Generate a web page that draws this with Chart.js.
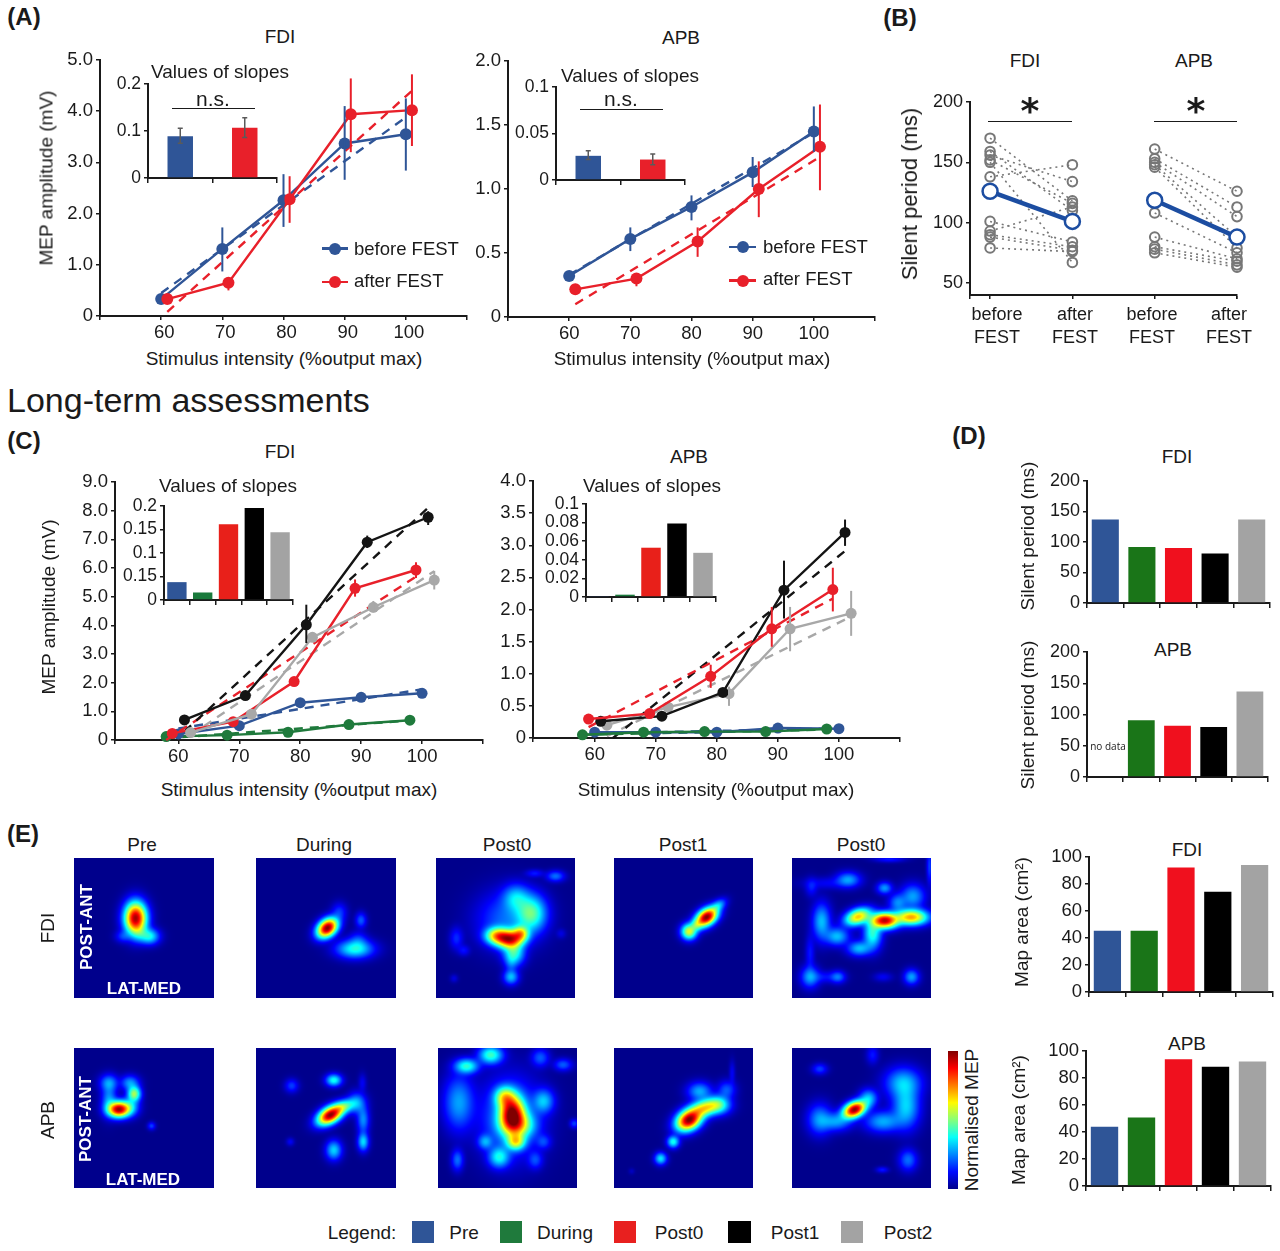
<!DOCTYPE html>
<html>
<head>
<meta charset="utf-8">
<title>FEST motor assessments</title>
<script src="https://cdn.jsdelivr.net/npm/chart.js@4"></script>
<style>
    html, body { margin: 0; background: #fff; }
    #page { position: relative; width: 1280px; height: 1251px; overflow: hidden; font-family: "Liberation Sans", Arial, sans-serif; color: #1a1a1a; }
    #page canvas { position: absolute; }
    .txt { position: absolute; white-space: nowrap; transform: translate(-50%, -50%); line-height: 1; }
</style>
</head>
<body>
<div id="page"></div>
<script>
// ---- data ----
var stimulusTicks = [60, 70, 80, 90, 100];
var timepoints = ['Pre', 'During', 'Post0', 'Post1', 'Post2'];
var legendLabels = ['Pre', 'During', 'Post0', 'Post1', 'Post2'];

// (A) x positions are nudged per group, as in the figure
var xBefore = [60, 70, 80, 90, 100];
var xAfter  = [61, 71, 81, 91, 101];

var aFdiBefore     = [0.33, 1.31, 2.26, 3.37, 3.55];
var aFdiBeforeLow  = [null, 0.87, 1.74, 2.66, 2.84];
var aFdiBeforeHigh = [null, 1.73, 2.77, 4.10, 4.25];
var aFdiAfter      = [0.33, 0.65, 2.28, 3.94, 4.02];
var aFdiAfterLow   = [null, 0.50, 1.82, 3.20, 3.32];
var aFdiAfterHigh  = [null, 0.74, 2.73, 4.64, 4.72];
var aFdiBeforeFit  = [[60, 0.45], [100, 3.88]];
var aFdiAfterFit   = [[61, 0.08], [101, 4.40]];

var aApbBefore     = [0.32, 0.61, 0.86, 1.13, 1.45];
var aApbBeforeLow  = [null, 0.515, 0.755, 1.015, 1.29];
var aApbBeforeHigh = [null, 0.70, 0.95, 1.25, 1.645];
var aApbAfter      = [0.216, 0.30, 0.59, 1.00, 1.33];
var aApbAfterLow   = [null, 0.24, 0.47, 0.78, 0.99];
var aApbAfterHigh  = [null, 0.34, 0.70, 1.216, 1.66];
var aApbBeforeFit  = [[60, 0.33], [100, 1.44]];
var aApbAfterFit   = [[61, 0.10], [101, 1.25]];

var slopeGroups = ['before FEST', 'after FEST'];
var aFdiSlopes     = [0.089, 0.107];
var aFdiSlopesLow  = [0.074, 0.086];
var aFdiSlopesHigh = [0.106, 0.128];
var aApbSlopes     = [0.026, 0.022];
var aApbSlopesLow  = [0.022, 0.0165];
var aApbSlopesHigh = [0.0315, 0.028];

// (B) one before/after pair per subject
var bFdiBefore = [170, 159, 156, 152, 150, 138, 101, 93, 90, 88, 79];
var bFdiAfter  = [118, 110, 134, 116, 67, 148, 84, 113, 80, 77, 76];
var bFdiMean   = [126, 101];
var bApbBefore = [161, 153, 150, 148, 146, 108, 88, 80, 78, 75];
var bApbAfter  = [126, 113, 105, 88, 79, 75, 70, 68, 65, 63];
var bApbMean   = [118.5, 88];
var bLabels    = [['before', 'FEST'], ['after', 'FEST'], ['before', 'FEST'], ['after', 'FEST']];

// (C)
var xPre    = [60, 70, 80, 90, 100];
var xDuring = [58, 68, 78, 88, 98];
var xPost0  = [59, 69, 79, 89, 99];
var xPost1  = [61, 71, 81, 91, 101];
var xPost2  = [62, 72, 82, 92, 102];

var cFdiPre    = [0.21, 0.50, 1.30, 1.49, 1.63];
var cFdiDuring = [0.12, 0.17, 0.27, 0.54, 0.69];
var cFdiPost0  = [0.23, 0.64, 2.04, 5.29, 5.93];
var cFdiPost1  = [0.70, 1.55, 4.02, 6.90, 7.77];
var cFdiPost2  = [0.26, 0.90, 3.58, 4.63, 5.58];
var cFdiPost0Low  = [null, null, null, 5.00, 5.65];
var cFdiPost0High = [null, null, null, 5.60, 6.20];
var cFdiPost1Low  = [null, null, 3.38, 6.70, 7.50];
var cFdiPost1High = [null, null, 4.72, 7.13, 7.98];
var cFdiPost2Low  = [null, null, null, 4.45, 5.25];
var cFdiPost2High = [null, null, null, 4.85, 5.90];
var cFdiPreFit    = [[60, 0.40], [100, 1.77]];
var cFdiDuringFit = [[58, 0.06], [98, 0.68]];
var cFdiPost0Fit  = [[58, 0.00], [99, 5.70]];
var cFdiPost1Fit  = [[61, 0.30], [101, 8.10]];
var cFdiPost2Fit  = [[62, 0.17], [102, 5.89]];

var cApbPre    = [0.09, 0.09, 0.09, 0.155, 0.145];
var cApbDuring = [0.05, 0.09, 0.10, 0.10, 0.14];
var cApbPost0  = [0.295, 0.38, 0.96, 1.70, 2.31];
var cApbPost1  = [0.26, 0.34, 0.71, 2.30, 3.20];
var cApbPost2  = [0.20, 0.48, 0.69, 1.70, 1.94];
var cApbPost0Low  = [null, null, 0.78, 1.42, 1.97];
var cApbPost0High = [null, null, 1.14, 2.04, 2.65];
var cApbPost1Low  = [null, null, null, 1.86, 2.99];
var cApbPost1High = [null, null, null, 2.76, 3.40];
var cApbPost2Low  = [null, null, 0.50, 1.35, 1.59];
var cApbPost2High = [null, null, 0.80, 2.04, 2.29];
var cApbPreFit    = [[60, 0.07], [100, 0.15]];
var cApbDuringFit = [[58, 0.05], [98, 0.13]];
var cApbPost0Fit  = [[59, 0.17], [99, 2.17]];
var cApbPost1Fit  = [[63, 0.00], [101, 2.91]];
var cApbPost2Fit  = [[62, 0.03], [102, 1.89]];

var cFdiSlopes = [0.038, 0.016, 0.161, 0.196, 0.144];
var cApbSlopes = [0.001, 0.0025, 0.053, 0.079, 0.0475];
var cFdiSlopeTicks  = [0, 0.05, 0.1, 0.15, 0.2];
var cFdiSlopeLabels = ['0', '0.15', '0.1', '0.15', '0.2'];   // the figure really prints 0.15 twice

// (D) and the map areas
var dFdiSilent = [137, 92, 90, 81, 137];
var dApbSilent = [null, 91, 82, 80, 137];
var eFdiArea   = [45.4, 45.4, 92.3, 74.3, 94];
var eApbArea   = [43.8, 50.7, 93.8, 88.4, 92.3];

// (E) the maps. Their grid values can't be read one by one, so each map is
// described by the hot spots seen in the picture, estimated by eye:
// [x %, y % from top, spread x, spread y, tilt deg, height 0-1]
var mapFdiPre = [
    [44, 43, 3.6, 5.2, 0, 0.95], [54, 56, 3.2, 2.6, 0, 0.36], [47, 54, 3, 3, 0, 0.2], [35, 56, 2.5, 2, 0, 0.16]
];
var mapFdiDuring = [
    [51, 50, 3.8, 2.7, -40, 0.98], [59.5, 38.5, 2.5, 3, 0, 0.16], [75, 44.5, 1.8, 2.5, 0, 0.2],
    [70.6, 65, 6, 3, 0, 0.38], [73, 59, 3, 3, 0, 0.16]
];
var mapFdiPost0 = [
    [44, 55.5, 4, 2.8, 0, 0.62], [53, 58, 4.5, 3, 0, 0.85], [61, 54, 2.8, 2.6, 0, 0.55], [68.5, 39.5, 5, 6, 0, 0.44],
    [57.6, 28.7, 4.5, 4.5, 0, 0.3], [52, 44, 10, 9, 0, 0.22], [56, 68, 3.5, 4, 0, 0.4], [54, 85, 2.5, 2.5, 0, 0.3],
    [54, 75, 2, 3, 0, 0.15], [14.7, 57.4, 2.2, 3.6, 0, 0.15], [20, 66, 2, 1.8, 0, 0.12], [86, 13, 3, 1.8, 0, 0.22],
    [71, 11, 3, 1.3, 0, 0.13], [90, 54, 1.6, 1.6, 0, 0.08], [13, 86, 1.3, 1.3, 0, 0.08]
];
var mapFdiPost1 = [
    [66.6, 42.3, 4, 2.6, -35, 0.98], [54, 52.6, 2.6, 2.6, 0, 0.58], [75, 34, 3, 1.8, -35, 0.28], [59.4, 47.8, 2, 2, 0, 0.3]
];
var mapFdiPost2 = [
    [66.7, 44.7, 4.5, 2.6, 0, 0.92], [85.8, 42.3, 5.5, 2.6, 0, 0.7], [47.5, 42, 4.5, 2.6, -20, 0.66], [58, 54, 3, 5, 0, 0.4],
    [48.5, 64.6, 4, 2.5, 0, 0.3], [32.4, 56, 4, 3, 0, 0.3], [21.3, 45.5, 3, 6, 0, 0.3], [40.4, 15.5, 4, 2.5, 0, 0.27],
    [14, 21, 2, 3, 0, 0.13], [66.6, 21.5, 2.5, 2, 0, 0.26], [87, 27.5, 4, 4, 0, 0.27], [76, 32, 3, 3, 0, 0.24],
    [13, 85, 3, 3.5, 0, 0.27], [33, 85, 2.5, 2, 0, 0.22], [86, 85, 2.5, 2.5, 0, 0.27], [65.5, 85, 3, 1.5, 0, 0.1],
    [13, 68, 1.5, 6, 0, 0.13], [99, 6, 1, 6, 0, 0.17], [70, 1, 5, 1, 0, 0.13], [25, 18, 8, 2, 0, 0.1], [23, 85, 5, 2, 0, 0.12]
];
var mapApbPre = [
    [32, 43.8, 3.6, 2.6, 0, 0.95], [43, 32.8, 2.2, 2.6, 0, 0.52], [25, 25, 3, 2.8, 0, 0.26], [40, 25, 3, 2.5, 0, 0.26],
    [25, 37, 2.5, 5, 0, 0.26], [40, 42, 3, 3, 0, 0.3], [55.4, 55.7, 1.3, 1.3, 0, 0.17]
];
var mapApbDuring = [
    [53, 48, 4.5, 2.6, -30, 0.96], [62.5, 42, 4, 2.2, -20, 0.42], [72, 39.5, 3, 3.5, 0, 0.27], [76.6, 51.4, 2, 4.5, 0, 0.25],
    [76.6, 67, 1.8, 3, 0, 0.33], [55.6, 23, 2.6, 2, 0, 0.38], [25.5, 27, 2.2, 2.2, 0, 0.17], [76, 25, 1.3, 3, 0, 0.1],
    [24.5, 67, 1.3, 1.3, 0, 0.1], [55.6, 73, 2.6, 3.2, 0, 0.32]
];
var mapApbPost0 = [
    [53.3, 46.6, 4.2, 6, 0, 0.9], [57, 55, 5.5, 4.5, 0, 0.55], [56, 67, 3.2, 2.8, 0, 0.55], [48, 35, 3.5, 3.5, 0, 0.5],
    [52, 50, 10, 13, 0, 0.25], [76, 38, 3.5, 4, 0, 0.3], [20.6, 13, 4, 2.5, 0, 0.4], [38, 5, 4, 3, 0, 0.42], [15, 39, 5, 9, 0, 0.27],
    [73.6, 7, 3, 3, 0, 0.2], [90, 12, 3, 2, 0, 0.2], [14, 80, 2, 3.5, 0, 0.22], [44, 78, 3.5, 3.5, 0, 0.36],
    [70, 80, 2.5, 3, 0, 0.18], [76, 67, 2.5, 2.5, 0, 0.17], [34, 67, 2.5, 2.5, 0, 0.26], [98, 54, 1.5, 1.5, 0, 0.17]
];
var mapApbPost1 = [
    [54, 51.4, 4.5, 3.2, -30, 0.98], [65, 43, 5, 2.8, -15, 0.6], [75, 40.7, 4, 3, 0, 0.42], [61.6, 31, 4, 3, 0, 0.28],
    [42.6, 67, 2, 2, 0, 0.38], [33.6, 79, 2, 2, 0, 0.34], [85, 18, 1, 4, 0, 0.1], [81, 30, 3, 3, 0, 0.2],
    [12.7, 88, 1, 1, 0, 0.05]
];
var mapApbPost2 = [
    [45, 44, 4, 2.5, -25, 0.97], [55, 36, 3, 3, 0, 0.3], [20, 51, 4, 5, 0, 0.26], [32, 52.6, 5, 3, 0, 0.26],
    [80, 25, 6, 5, 0, 0.3], [82, 42, 4.5, 7, 0, 0.32], [65.5, 52.6, 6, 3.5, 0, 0.28], [20, 15, 2.5, 1.8, 0, 0.17],
    [58, 5, 2, 3, 0, 0.13], [83.5, 80, 3, 3.5, 0, 0.22], [65, 87, 2, 1, 0, 0.13]
];

// ---- colours ----
var BLUE = '#2f5597', GREEN = '#1f7a3c', RED = '#e8202a', BLACK = '#141414', GREY = '#a8a8a8';
var barColors = ['#2f5597', '#1a7518', '#f0101e', '#000000', '#a3a3a3'];
var insetColors = ['#2f5597', '#1a7a3c', '#e8201a', '#000000', '#a3a3a3'];
var legendColors = ['#2f5597', '#1f7a3c', '#e8201f', '#000000', '#a3a3a3'];
var AXIS = '#1a1a1a';

// ---- chart.js setup ----
Chart.defaults.font.family = '"Liberation Sans", Arial, sans-serif';
Chart.defaults.color = AXIS;
Chart.defaults.animation = false;
Chart.defaults.responsive = false;
Chart.defaults.plugins.legend.display = false;
Chart.defaults.plugins.tooltip.enabled = false;

// vertical error bars, taken from dataset.errLow / dataset.errHigh
Chart.register({
    id: 'errorBars',
    afterDatasetsDraw: function(chart) {
        var ctx = chart.ctx;
        chart.data.datasets.forEach(function(ds, i) {
            if (!ds.errLow) return;
            var meta = chart.getDatasetMeta(i);
            var y = chart.scales.y;
            ctx.save();
            ctx.strokeStyle = ds.errColor || ds.borderColor;
            ctx.lineWidth = ds.errWidth || 2;
            ds.errLow.forEach(function(lo, k) {
                if (lo === null) return;
                var px = meta.data[k].x, y0 = y.getPixelForValue(lo), y1 = y.getPixelForValue(ds.errHigh[k]);
                ctx.beginPath();
                ctx.moveTo(px, y0);
                ctx.lineTo(px, y1);
                if (ds.errCap) {
                    ctx.moveTo(px - ds.errCap, y0); ctx.lineTo(px + ds.errCap, y0);
                    ctx.moveTo(px - ds.errCap, y1); ctx.lineTo(px + ds.errCap, y1);
                }
                ctx.stroke();
            });
            ctx.restore();
        });
    }
});

function jet(v) {
    function c(a) { return Math.max(0, Math.min(1, a)) * 255; }
    return [c(1.5 - Math.abs(4 * v - 3)), c(1.5 - Math.abs(4 * v - 2)), c(1.5 - Math.abs(4 * v - 1))];
}

// paints dataset.spots over the chart area, going through the chart's scales
var SPREAD = 1.6;
Chart.register({
    id: 'heatField',
    beforeDatasetsDraw: function(chart) {
        var ds = chart.data.datasets[0];
        if (!ds.spots) return;
        var a = chart.chartArea, w = Math.round(a.right - a.left), h = Math.round(a.bottom - a.top);
        var img = chart.ctx.createImageData(w, h);
        var sx = chart.scales.x, sy = chart.scales.y;
        for (var j = 0; j < h; j++) {
            var vy = sy.getValueForPixel(a.top + j + 0.5);
            for (var i = 0; i < w; i++) {
                var vx = sx.getValueForPixel(a.left + i + 0.5), sum = 0;
                ds.spots.forEach(function(s) {
                    var t = s[4] * Math.PI / 180, dx = vx - s[0], dy = vy - s[1];
                    var u = (dx * Math.cos(t) + dy * Math.sin(t)) / (s[2] * SPREAD);
                    var v = (-dx * Math.sin(t) + dy * Math.cos(t)) / (s[3] * SPREAD);
                    sum += Math.pow(s[5] * Math.exp(-(u * u + v * v) / 2), 1.5);
                });
                var col = jet(Math.min(1, 0.012 + Math.pow(sum, 1 / 1.5))), p = (j * w + i) * 4;
                img.data[p] = col[0]; img.data[p + 1] = col[1]; img.data[p + 2] = col[2]; img.data[p + 3] = 255;
            }
        }
        chart.ctx.putImageData(img, a.left, a.top);
    }
});

var page = document.getElementById('page');
var ML = 70, MB = 30, MT = 14, MR = 14;

// canvas whose plot area lands exactly on (x0,y0)-(x1,y1)
function place(x0, y0, x1, y1, config) {
    var c = document.createElement('canvas');
    c.width = x1 - x0 + ML + MR;
    c.height = y1 - y0 + MT + MB;
    c.style.left = (x0 - ML) + 'px';
    c.style.top = (y0 - MT) + 'px';
    page.appendChild(c);
    config.options.layout = { padding: { top: MT, right: MR, left: 0, bottom: 0 } };
    return new Chart(c.getContext('2d'), config);
}

function noPad(s) { s.paddingTop = s.paddingBottom = s.paddingLeft = s.paddingRight = 0; }

function yAxis(max, ticks, labels, size) {
    return {
        type: 'linear', min: ticks.min === undefined ? 0 : ticks.min, max: max,
        afterBuildTicks: function(s) { s.ticks = ticks.map(function(v) { return { value: v }; }); },
        afterFit: function(s) { s.width = ML; noPad(s); },
        ticks: {
            autoSkip: false, padding: 3, font: { size: size },
            callback: function(v, i) { return labels[i]; }
        },
        grid: { drawOnChartArea: false, tickLength: 4, tickColor: AXIS, lineWidth: 1.5 },
        border: { color: AXIS, width: 2 }
    };
}

function xLinear(min, max, ticks, size, shift) {
    return {
        type: 'linear', min: min, max: max,
        afterBuildTicks: function(s) {
            s.ticks = [min].concat(ticks, [max]).map(function(v) { return { value: v }; });
        },
        afterFit: function(s) { s.height = MB; noPad(s); },
        ticks: {
            autoSkip: false, maxRotation: 0, padding: 2, labelOffset: shift || 0, font: { size: size || 18.5 },
            callback: function(v) { return ticks.indexOf(v) >= 0 && size !== 1 ? String(v) : ''; }
        },
        grid: { drawOnChartArea: false, tickLength: 4, tickColor: AXIS, lineWidth: 1.5 },
        border: { color: AXIS, width: 2 }
    };
}

function xCategory() {
    return {
        type: 'category',
        afterFit: function(s) { s.height = MB; noPad(s); },
        ticks: { autoSkip: false, maxRotation: 0, callback: function() { return ''; } },
        grid: { drawOnChartArea: false, tickLength: 5, tickColor: AXIS, lineWidth: 1.5 },
        border: { color: AXIS, width: 2 }
    };
}

function pairs(xs, ys) {
    return xs.map(function(x, i) { return { x: x, y: ys[i] }; });
}

function solid(color, xs, ys, low, high, radius) {
    return {
        data: pairs(xs, ys), showLine: true, clip: false, borderColor: color, backgroundColor: color,
        borderWidth: 2.4, pointRadius: radius, pointBorderWidth: 0, errLow: low, errHigh: high
    };
}

function dashed(color, ends) {
    return {
        data: ends.map(function(p) { return { x: p[0], y: p[1] }; }), showLine: true, clip: false,
        borderColor: color, borderWidth: 2.4, borderDash: [9, 7], pointRadius: 0
    };
}

function lineChart(box, xMin, xMax, yMax, yTicks, yLabels, sets, shift) {
    // the first dataset gets painted on top, so hand them over back to front
    place(box[0], box[1], box[2], box[3], {
        type: 'scatter',
        data: { datasets: sets.slice().reverse() },
        options: { scales: { x: xLinear(xMin, xMax, stimulusTicks, null, shift), y: yAxis(yMax, yTicks, yLabels, 18.5) } }
    });
}

function barChart(box, cats, values, colors, width, yMax, yTicks, yLabels, size, low, high) {
    place(box[0], box[1], box[2], box[3], {
        type: 'bar',
        data: {
            labels: cats,
            datasets: [{
                data: values, backgroundColor: colors, borderWidth: 0, clip: false,
                categoryPercentage: 1, barPercentage: width,
                errLow: low, errHigh: high, errColor: '#5a5a5a', errCap: 2.5, errWidth: 1.5
            }]
        },
        options: { scales: { x: xCategory(), y: yAxis(yMax, yTicks, yLabels, size) } }
    });
}

function label(text, x, y, size, opt) {
    opt = opt || {};
    var d = document.createElement('div');
    d.className = 'txt';
    d.textContent = text;
    d.style.left = x + 'px';
    d.style.top = y + 'px';
    d.style.fontSize = size + 'px';
    if (opt.bold) d.style.fontWeight = 'bold';
    if (opt.color) d.style.color = opt.color;
    if (opt.font) d.style.fontFamily = opt.font;
    if (opt.left) d.style.transform = 'translate(0, -50%)';
    if (opt.up) d.style.transform = 'translate(-50%, -50%) rotate(-90deg)';
    page.appendChild(d);
}

function rect(x, y, w, h, color, round) {
    var d = document.createElement('div');
    d.style.cssText = 'position:absolute;left:' + x + 'px;top:' + y + 'px;width:' + w + 'px;height:' + h + 'px;background:' + color + ';';
    if (round) d.style.borderRadius = '50%';
    page.appendChild(d);
}

function keyLine(x0, x1, y, color) {
    rect(x0, y - 1.2, x1 - x0, 2.4, color);
    rect((x0 + x1) / 2 - 6, y - 6, 12, 12, color, true);
}

var stimTitle = 'Stimulus intensity (%output max)';

// ---- (A) ----
label('(A)', 24, 17, 24, { bold: true });
label('FDI', 280, 36, 19);
label('APB', 681, 37, 19);
lineChart([100, 60, 467, 316], 50, 110, 5, [0, 1, 2, 3, 4, 5], ['0', '1.0', '2.0', '3.0', '4.0', '5.0'], [
    dashed(BLUE, aFdiBeforeFit), dashed(RED, aFdiAfterFit),
    solid(BLUE, xBefore, aFdiBefore, aFdiBeforeLow, aFdiBeforeHigh, 6),
    solid(RED, xAfter, aFdiAfter, aFdiAfterLow, aFdiAfterHigh, 6)
], 3);
lineChart([508, 61, 875, 317], 50, 110, 2, [0, 0.5, 1, 1.5, 2], ['0', '0.5', '1.0', '1.5', '2.0'], [
    dashed(BLUE, aApbBeforeFit), dashed(RED, aApbAfterFit),
    solid(BLUE, xBefore, aApbBefore, aApbBeforeLow, aApbBeforeHigh, 6),
    solid(RED, xAfter, aApbAfter, aApbAfterLow, aApbAfterHigh, 6)
]);
barChart([148, 84, 277, 178], slopeGroups, aFdiSlopes, [BLUE, RED], 0.395, 0.2, [0, 0.1, 0.2], ['0', '0.1', '0.2'], 17.5, aFdiSlopesLow, aFdiSlopesHigh);
barChart([556, 87, 685, 180], slopeGroups, aApbSlopes, [BLUE, RED], 0.395, 0.1, [0, 0.05, 0.1], ['0', '0.05', '0.1'], 17.5, aApbSlopesLow, aApbSlopesHigh);
label('Values of slopes', 220, 71, 19);
label('n.s.', 213, 98, 21);
rect(172, 108, 83, 1.2, AXIS);
label('Values of slopes', 630, 75, 19);
label('n.s.', 621, 98, 21);
rect(580, 109, 83, 1.2, AXIS);
label('MEP amplitude (mV)', 46, 178, 19, { up: true });
label(stimTitle, 284, 358, 19);
label(stimTitle, 692, 358, 19);
keyLine(322, 348, 248.5, BLUE);
label(slopeGroups[0], 354, 249, 18.5, { left: true });
keyLine(322, 348, 282, RED);
label(slopeGroups[1], 354, 281, 18.5, { left: true });
keyLine(729, 756, 247, BLUE);
label(slopeGroups[0], 763, 247, 18.5, { left: true });
keyLine(729, 756, 280.5, RED);
label(slopeGroups[1], 763, 279, 18.5, { left: true });

// ---- (B) ----
label('(B)', 900, 18, 24, { bold: true });
label('FDI', 1025, 60, 19);
label('APB', 1194, 60, 19);
var bSets = [];
function subjectLines(before, after, x0, x1) {
    before.forEach(function(v, i) {
        bSets.push({
            data: [{ x: x0, y: v }, { x: x1, y: after[i] }], showLine: true, clip: false,
            borderColor: '#777', borderWidth: 1.6, borderDash: [2, 4],
            pointRadius: 4.8, pointBorderWidth: 2, pointBorderColor: '#777', pointBackgroundColor: 'rgba(255,255,255,0)'
        });
    });
}
function meanLine(mean, x0, x1) {
    bSets.push({
        data: [{ x: x0, y: mean[0] }, { x: x1, y: mean[1] }], showLine: true, clip: false,
        borderColor: '#1c4da1', borderWidth: 4.5,
        pointRadius: 7.5, pointBorderWidth: 2.5, pointBorderColor: '#1c4da1', pointBackgroundColor: '#fff'
    });
}
subjectLines(bFdiBefore, bFdiAfter, 1, 2);
subjectLines(bApbBefore, bApbAfter, 3, 4);
meanLine(bFdiMean, 1, 2);
meanLine(bApbMean, 3, 4);
var bX = xLinear(0.756, 4, [1, 2, 3, 4], 1);
place(970, 102, 1237, 295, {
    type: 'scatter',
    data: { datasets: bSets.slice().reverse() },
    options: { scales: { x: bX, y: yAxis(200, Object.assign([50, 100, 150, 200], { min: 40 }), ['50', '100', '150', '200'], 18) } }
});
label('Silent period (ms)', 910, 194, 22, { up: true });
rect(988, 120.5, 84, 1.2, AXIS);
rect(1154, 120.5, 83, 1.2, AXIS);
label('*', 1030, 111, 36, { font: '"DejaVu Sans", sans-serif', bold: true });
label('*', 1196, 111, 36, { font: '"DejaVu Sans", sans-serif', bold: true });
[997, 1075, 1152, 1229].forEach(function(x, i) {
    label(bLabels[i][0], x, 314, 18);
    label(bLabels[i][1], x, 337, 18);
});

// ---- Long-term ----
label('Long-term assessments', 7, 400, 34, { left: true });

// ---- (C) ----
label('(C)', 24, 441, 24, { bold: true });
label('FDI', 280, 451, 19);
label('APB', 689, 456, 19);
lineChart([115, 482, 483, 740], 49.6, 110, 9, [0, 1, 2, 3, 4, 5, 6, 7, 8, 9],
    ['0', '1.0', '2.0', '3.0', '4.0', '5.0', '6.0', '7.0', '8.0', '9.0'], [
    dashed(GREEN, cFdiDuringFit), dashed(BLUE, cFdiPreFit),
    solid(GREEN, xDuring, cFdiDuring, null, null, 5.5),
    solid(BLUE, xPre, cFdiPre, null, null, 5.5),
    dashed(GREY, cFdiPost2Fit), dashed(RED, cFdiPost0Fit), dashed(BLACK, cFdiPost1Fit),
    solid(RED, xPost0, cFdiPost0, cFdiPost0Low, cFdiPost0High, 5.5),
    solid(BLACK, xPost1, cFdiPost1, cFdiPost1Low, cFdiPost1High, 5.5),
    solid(GREY, xPost2, cFdiPost2, cFdiPost2Low, cFdiPost2High, 5.5)
]);
lineChart([533, 481, 900, 738], 49.9, 110, 4, [0, 0.5, 1, 1.5, 2, 2.5, 3, 3.5, 4],
    ['0', '0.5', '1.0', '1.5', '2.0', '2.5', '3.0', '3.5', '4.0'], [
    dashed(GREY, cApbPost2Fit), dashed(BLACK, cApbPost1Fit), dashed(RED, cApbPost0Fit),
    solid(GREY, xPost2, cApbPost2, cApbPost2Low, cApbPost2High, 5.5),
    solid(BLACK, xPost1, cApbPost1, cApbPost1Low, cApbPost1High, 5.5),
    solid(RED, xPost0, cApbPost0, cApbPost0Low, cApbPost0High, 5.5),
    dashed(BLUE, cApbPreFit), dashed(GREEN, cApbDuringFit),
    solid(BLUE, xPre, cApbPre, null, null, 5.5),
    solid(GREEN, xDuring, cApbDuring, null, null, 5.5)
]);
barChart([164, 506, 293, 600], timepoints, cFdiSlopes, insetColors, 0.75, 0.2, cFdiSlopeTicks, cFdiSlopeLabels, 17.5);
barChart([586, 504, 716, 597], timepoints, cApbSlopes, insetColors, 0.75, 0.1, [0, 0.02, 0.04, 0.06, 0.08, 0.1], ['0', '0.02', '0.04', '0.06', '0.08', '0.1'], 17.5);
label('Values of slopes', 228, 485, 19);
label('Values of slopes', 652, 485, 19);
label('MEP amplitude (mV)', 48, 607, 19, { up: true });
label(stimTitle, 299, 789, 19);
label(stimTitle, 716, 789, 19);

// ---- (D) ----
label('(D)', 969, 436, 24, { bold: true });
label('FDI', 1177, 456, 19);
label('APB', 1173, 649, 19);
barChart([1087, 481, 1270, 603], timepoints, dFdiSilent, barColors, 0.74, 200, [0, 50, 100, 150, 200], ['0', '50', '100', '150', '200'], 18);
barChart([1087, 652, 1268, 777], timepoints, dApbSilent, barColors, 0.74, 200, [0, 50, 100, 150, 200], ['0', '50', '100', '150', '200'], 18);
label('Silent period (ms)', 1027, 536, 19, { up: true });
label('Silent period (ms)', 1027, 715, 19, { up: true });
label('no data', 1108, 746, 10, { font: '"Open Sans", sans-serif' });

// ---- map areas ----
label('FDI', 1187, 849, 19);
label('APB', 1187, 1043, 19);
barChart([1089, 857, 1273, 992], timepoints, eFdiArea, barColors, 0.74, 100, [0, 20, 40, 60, 80, 100], ['0', '20', '40', '60', '80', '100'], 18.5);
barChart([1086, 1051, 1271, 1186], timepoints, eApbArea, barColors, 0.74, 100, [0, 20, 40, 60, 80, 100], ['0', '20', '40', '60', '80', '100'], 18.5);
label('Map area (cm²)', 1021, 922, 19, { up: true });
label('Map area (cm²)', 1018, 1120, 19, { up: true });

// ---- (E) maps ----
function heatMap(x0, y0, x1, y1, spots) {
    var c = document.createElement('canvas');
    c.width = x1 - x0;
    c.height = y1 - y0;
    c.style.left = x0 + 'px';
    c.style.top = y0 + 'px';
    page.appendChild(c);
    new Chart(c.getContext('2d'), {
        type: 'scatter',
        data: {
            datasets: [{
                data: spots.map(function(s) { return { x: s[0], y: s[1] }; }),
                spots: spots, pointRadius: 0
            }]
        },
        options: {
            scales: {
                x: { type: 'linear', display: false, min: 0, max: 100 },
                y: { type: 'linear', display: false, min: 0, max: 100, reverse: true }
            }
        }
    });
}

label('(E)', 23, 834, 24, { bold: true });
['Pre', 'During', 'Post0', 'Post1', 'Post0'].forEach(function(t, i) {
    label(t, [142, 324, 507, 683, 861][i], 844, 19);
});
label('FDI', 47, 928, 19, { up: true });
label('APB', 47, 1120, 19, { up: true });
heatMap(74, 858, 214, 998, mapFdiPre);
heatMap(256, 858, 396, 998, mapFdiDuring);
heatMap(436, 858, 575, 998, mapFdiPost0);
heatMap(614, 858, 753, 998, mapFdiPost1);
heatMap(792, 858, 931, 998, mapFdiPost2);
heatMap(74, 1048, 214, 1188, mapApbPre);
heatMap(256, 1048, 396, 1188, mapApbDuring);
heatMap(438, 1048, 577, 1188, mapApbPost0);
heatMap(614, 1048, 753, 1188, mapApbPost1);
heatMap(792, 1048, 931, 1188, mapApbPost2);
label('POST-ANT', 86, 927, 17, { up: true, bold: true, color: '#fff' });
label('LAT-MED', 144, 988, 17, { bold: true, color: '#fff' });
label('POST-ANT', 85, 1119, 17, { up: true, bold: true, color: '#fff' });
label('LAT-MED', 143, 1179, 17, { bold: true, color: '#fff' });

// colour bar, one bar filled with the map's colour ramp
(function() {
    var c = document.createElement('canvas');
    c.width = 10; c.height = 138;
    c.style.left = '948px'; c.style.top = '1051px';
    page.appendChild(c);
    var ctx = c.getContext('2d');
    var ramp = ctx.createLinearGradient(0, 138, 0, 0);
    for (var i = 0; i <= 8; i++) {
        var col = jet(0.01 + i * 0.99 / 8);
        ramp.addColorStop(i / 8, 'rgb(' + col[0] + ',' + col[1] + ',' + col[2] + ')');
    }
    new Chart(ctx, {
        type: 'bar',
        data: { labels: ['Normalised MEP'], datasets: [{ data: [1], backgroundColor: ramp, categoryPercentage: 1, barPercentage: 1 }] },
        options: {
            scales: {
                x: { display: false },
                y: { display: false, min: 0, max: 1 }
            }
        }
    });
})();
label('Normalised MEP', 971, 1120, 19, { up: true });

// ---- legend ----
label('Legend:', 362, 1232, 19);
[[412, 434, 464], [500, 522, 565], [614, 636, 679], [728, 751, 795], [841, 863, 908]].forEach(function(p, i) {
    rect(p[0], 1221, p[1] - p[0], 22, legendColors[i]);
    label(legendLabels[i], p[2], 1232, 19);
});
</script>
</body>
</html>
